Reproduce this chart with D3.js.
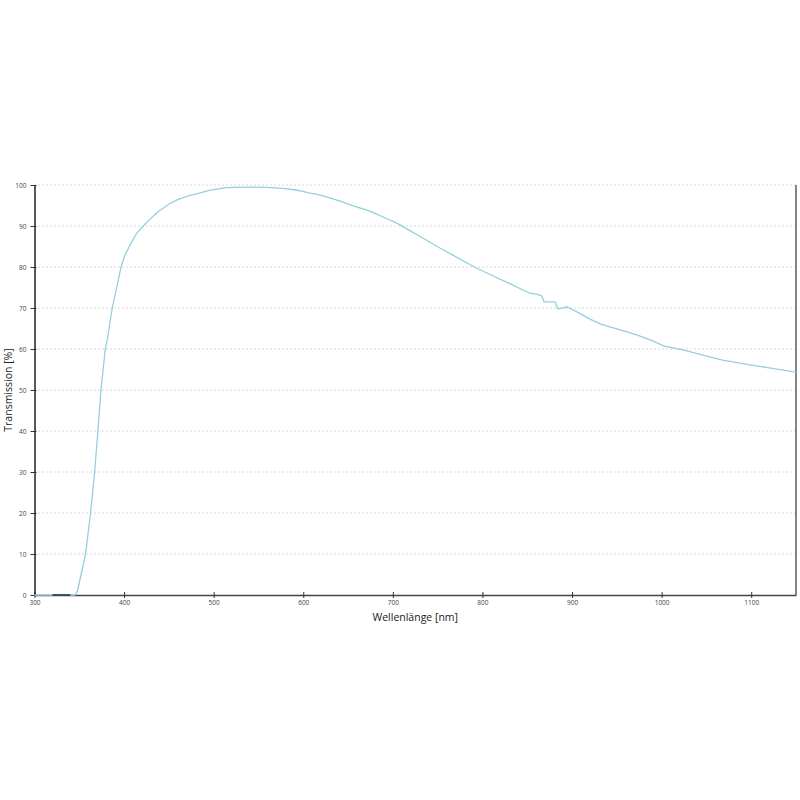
<!DOCTYPE html>
<html><head><meta charset="utf-8">
<script src="https://cdn.jsdelivr.net/npm/d3@7"></script>
<style>body{margin:0;background:#fff}svg{display:block}</style>
</head><body>
<script>
const wavelength = [300,320,340,345,348,352,357,362.6,367.1,370.8,374.2,379,381.2,386.8,393.5,396.5,401,407.7,414,421.4,428,438,451,462,474,485,495,503,512,521,540,559,577,588,596,606,615,624,633,642,652,662,672,682,694,706,718,730,741,752,772,791,812,834,853,860,866,869,881,884,890,894,905,920,933,944,955,973,990,1003,1024,1046,1068,1094,1120,1146,1150];
const transmission = [0,0,0,0,1,5,10,20,30,40,50,60,62.2,70,76.8,80,82.9,85.8,88.2,90,91.5,93.5,95.5,96.6,97.5,98.1,98.7,99.0,99.3,99.4,99.5,99.4,99.2,98.9,98.6,98.1,97.7,97.2,96.6,96.0,95.2,94.5,93.8,92.9,91.7,90.5,89.0,87.5,86.1,84.7,82.3,80,77.8,75.6,73.6,73.4,73,71.5,71.5,69.8,70,70.3,69.1,67.3,66.0,65.3,64.6,63.4,62.0,60.7,59.8,58.5,57.3,56.3,55.4,54.5,54.4];
const darkWavelength = [320,340];
const darkTransmission = [0,0];
const xTicks = [300,400,500,600,700,800,900,1000,1100];
const yTicks = [0,10,20,30,40,50,60,70,80,90,100];
const xTitle = "Wellenlänge [nm]";
const yTitle = "Transmission [%]";

const W=800,H=800;
const svg=d3.select("body").append("svg").attr("width",W).attr("height",H);
const x=d3.scaleLinear().domain([300,1150]).range([34.5,796]);
const y=d3.scaleLinear().domain([0,100]).range([595,185]);
const font="'Open Sans', 'Noto Sans', sans-serif";

// gridlines
svg.append("g").selectAll("line").data(yTicks.filter(d=>d>0)).join("line")
  .attr("x1",x(300)).attr("x2",x(1150)).attr("y1",d=>y(d)).attr("y2",d=>y(d))
  .attr("stroke","#b0b0b0").attr("stroke-width",1).attr("stroke-dasharray","1,3");

// right border
svg.append("line").attr("x1",x(1150)).attr("x2",x(1150)).attr("y1",y(100)).attr("y2",y(0))
  .attr("stroke","#333").attr("stroke-width",1.2);

// axes
const xa=svg.append("g").attr("transform",`translate(0,${y(0)})`)
  .call(d3.axisBottom(x).tickValues(xTicks).tickSize(3).tickSizeOuter(0).tickFormat(d3.format("d")));
xa.select(".domain").attr("stroke","#444").attr("stroke-width",1.5);
xa.selectAll(".tick line").attr("stroke","#333").attr("y1",-3).attr("y2",3);
xa.selectAll(".tick text").attr("font-family",font).attr("font-size",6.5).attr("fill","#444").attr("dy","0.9em").attr("y",4);

const ya=svg.append("g").attr("transform",`translate(${x(300)},0)`)
  .call(d3.axisLeft(y).tickValues(yTicks).tickSize(4).tickSizeOuter(0));
ya.select(".domain").attr("stroke","#222").attr("stroke-width",1.5);
ya.selectAll(".tick line").attr("stroke","#333").attr("x1",2).attr("x2",-4);
ya.selectAll(".tick text").attr("font-family",font).attr("font-size",6.5).attr("fill","#444").attr("x",-8);

// curve
const line=d3.line().x(d=>x(d[0])).y(d=>y(d[1]));
svg.append("path").datum(wavelength.map((w,i)=>[w,transmission[i]]))
  .attr("d",line).attr("fill","none").attr("stroke","#95cfdc").attr("stroke-width",1.3);
svg.append("path").datum(darkWavelength.map((w,i)=>[w,darkTransmission[i]]))
  .attr("d",line).attr("fill","none").attr("stroke","#1f3550").attr("stroke-width",1.6);

// titles
svg.append("text").attr("x",(x(300)+x(1150))/2).attr("y",621).attr("text-anchor","middle")
  .attr("font-family",font).attr("font-size",10.5).attr("fill","#222").text(xTitle);
svg.append("text").attr("transform",`translate(12,${(y(0)+y(100))/2}) rotate(-90)`).attr("text-anchor","middle")
  .attr("font-family",font).attr("font-size",10.5).attr("fill","#222").text(yTitle);
</script>
</body></html>
